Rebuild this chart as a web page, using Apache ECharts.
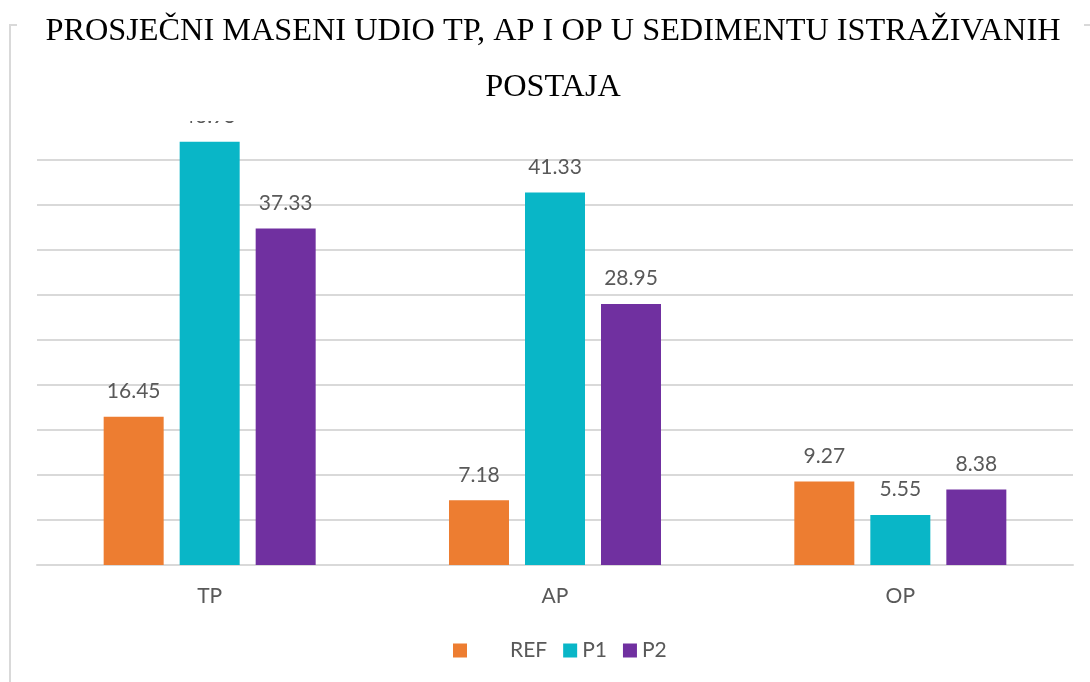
<!DOCTYPE html>
<html>
<head>
<meta charset="utf-8">
<script src="https://cdn.jsdelivr.net/npm/echarts@6/dist/echarts.min.js"></script>
<style>html,body{margin:0;padding:0;background:#fff;}#c{width:1090px;height:682px;}</style>
</head>
<body>
<div id="c"></div>
<script>
const categories = ['TP', 'AP', 'OP'];
const seriesNames = ['REF', 'P1', 'P2'];
const refValues = [16.45, 7.18, 9.27];
const p1Values = [46.95, 41.33, 5.55];
const p2Values = [37.33, 28.95, 8.38];
const colors = ['#ED7D31', '#09B6C7', '#7030A0'];
const titleText = 'PROSJEČNI MASENI UDIO TP, AP I OP U SEDIMENTU ISTRAŽIVANIH\nPOSTAJA';

const chart = echarts.init(document.getElementById('c'));
const labelStyle = {
  show: true, position: 'top', distance: 15,
  color: '#595959', fontFamily: 'Lato', fontSize: 21
};
const mk = (name, data, color) => ({
  name, type: 'bar', data, barWidth: 60, barGap: '26.67%', clip: false,
  itemStyle: { color }, label: labelStyle
});
chart.setOption({
  animation: false,
  backgroundColor: '#fff',
  title: {
    text: titleText, left: 548, textAlign: 'center', top: -1, z: 200,
    textStyle: { fontFamily: 'Liberation Serif', fontWeight: 'normal', fontSize: 32.3, color: '#000', lineHeight: 56 }
  },
  grid: { left: 37, right: 17, top: 159.3, bottom: 117 },
  xAxis: {
    type: 'category', data: categories,
    axisLine: { show: true, lineStyle: { color: '#D9D9D9', width: 2 } },
    axisTick: { show: false },
    axisLabel: { color: '#595959', fontFamily: 'Lato', fontSize: 21, margin: 21 }
  },
  yAxis: {
    type: 'value', min: 0, max: 45, interval: 5,
    axisLabel: { show: false }, axisLine: { show: false }, axisTick: { show: false },
    splitLine: { lineStyle: { color: '#D9D9D9', width: 2 } }
  },
  legend: {
    data: seriesNames, bottom: 16, left: 448, itemWidth: 14, itemHeight: 14, itemGap: 16,
    icon: 'rect',
    formatter: n => n === 'REF' ? '{s|}' + n : n,
    textStyle: { color: '#595959', fontFamily: 'Lato', fontSize: 21, rich: { s: { width: 38 } } }
  },
  graphic: [
    { type: 'rect', z: 150, shape: { x: 150, y: 100, width: 130, height: 21 }, style: { fill: '#fff' } },
    { type: 'polyline', z: 150, shape: { points: [[17, 25], [10, 25], [10, 682]] }, style: { stroke: '#D9D9D9', lineWidth: 2, fill: null } },
    { type: 'line', z: 150, shape: { x1: 1084, y1: 25, x2: 1090, y2: 25 }, style: { stroke: '#D9D9D9', lineWidth: 2 } }
  ],
  series: [
    mk(seriesNames[0], refValues, colors[0]),
    mk(seriesNames[1], p1Values, colors[1]),
    mk(seriesNames[2], p2Values, colors[2])
  ]
});
</script>
</body>
</html>
